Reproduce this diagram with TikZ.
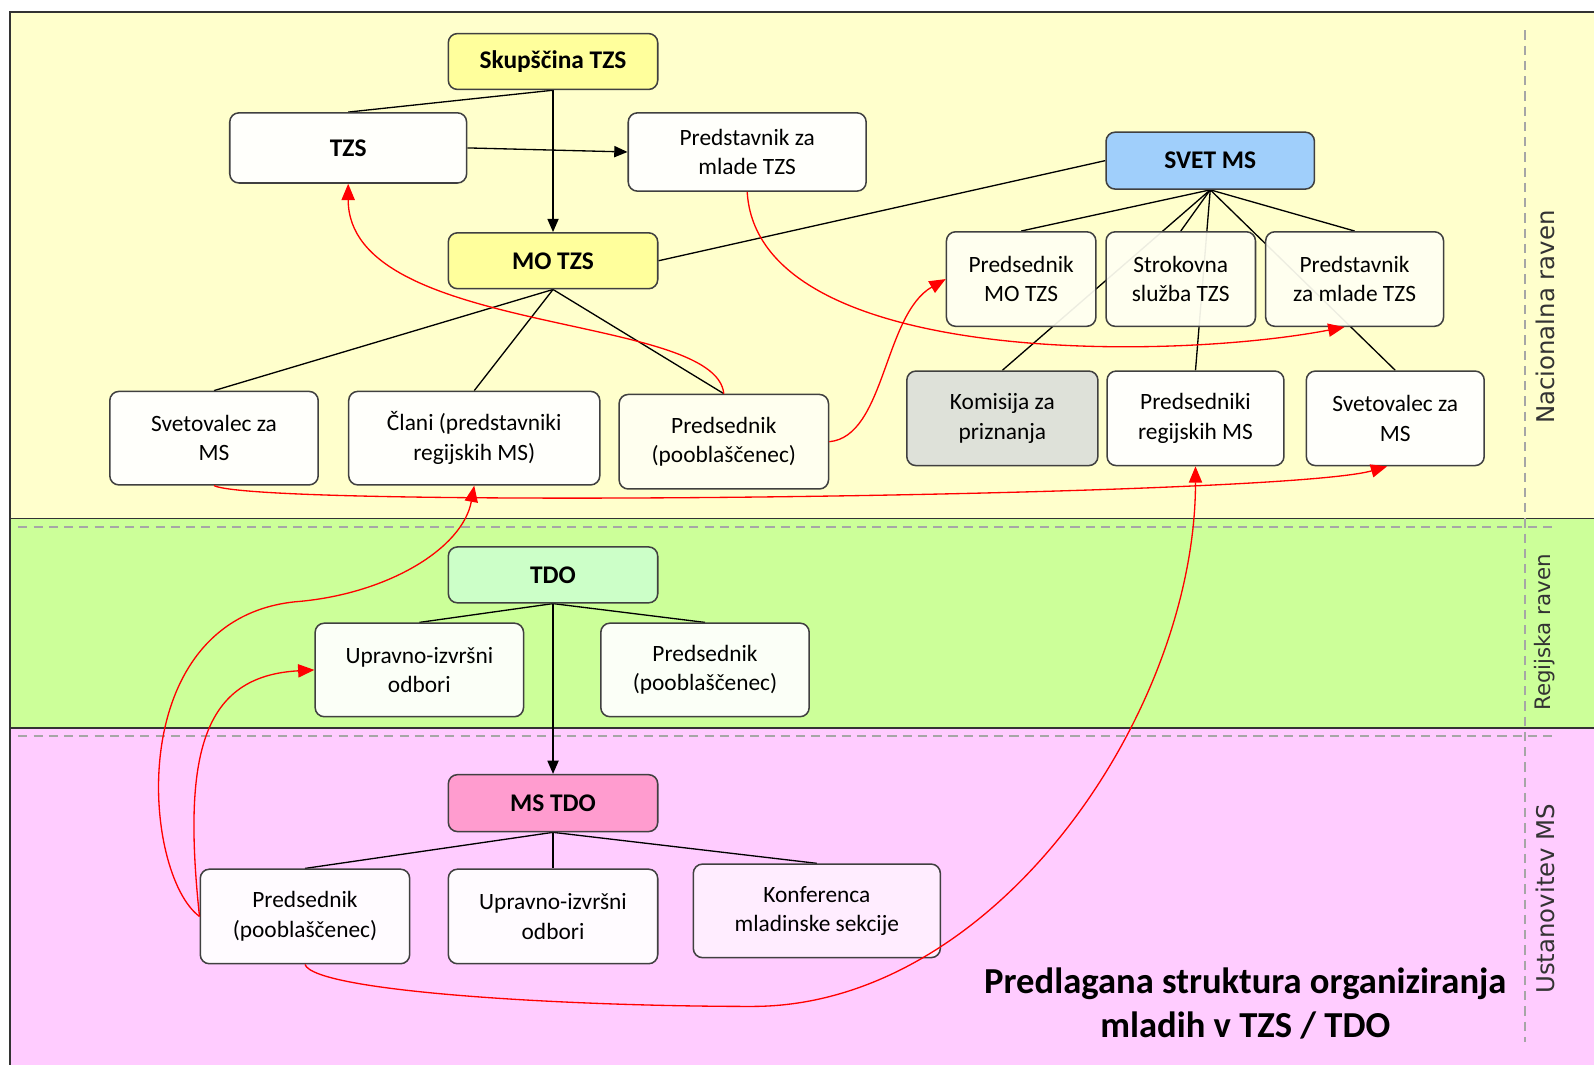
\documentclass[tikz,border=0pt]{standalone}
\usepackage{fontspec}
\setmainfont{Carlito}
\newfontfamily\bandfont{DejaVu Sans}
\usetikzlibrary{arrows.meta,backgrounds}
\definecolor{bandY}{HTML}{FFFFCC}
\definecolor{bandG}{HTML}{CCFF99}
\definecolor{bandP}{HTML}{FFCCFF}
\definecolor{headY}{HTML}{FFFF99}
\definecolor{headB}{HTML}{99CCFF}
\definecolor{headG}{HTML}{CCFFCC}
\definecolor{headP}{HTML}{FF99CC}
\definecolor{ivory}{HTML}{FFFFF2}
\definecolor{grayK}{HTML}{DCDFDB}
\definecolor{pinkK}{HTML}{FFF0FF}

\begin{document}
\begin{tikzpicture}
[x=1pt,y=-1pt,
 cell/.style={rectangle,rounded corners=9pt,draw=black!75,line width=1.5pt,fill=white,fill opacity=0.93,text opacity=1,inner sep=0pt,align=center,minimum width=206pt,minimum height=93pt,font=\fontsize{23}{29}\selectfont},
 head/.style={cell,minimum height=55pt,font=\fontsize{25}{30}\selectfont\bfseries},
 band/.style={rotate=90,text=black!80,font=\bandfont\fontsize{24}{28}\selectfont},
 tie/.style={line width=1.3pt},
 down/.style={line width=1.3pt,-{Triangle[length=13pt,width=11pt]}},
 redlink/.style={red,line width=1.3pt,-{Triangle[length=16pt,width=13pt]}},
 sep/.style={line width=1.6pt,black!80},
 dashsep/.style={line width=1.8pt,black!35,dash pattern=on 9pt off 6pt}]
\useasboundingbox (0,0) rectangle (1568,1047);
% national level
\node[head,fill=headY] (SK)  at ( 544  , 60.5) {Skupščina TZS};
\node[head,minimum width=233pt,minimum height=69pt] (TZS) at ( 342.5,145.5) {TZS};
\node[cell,minimum width=234pt,minimum height=77pt] (PM)  at ( 735  ,149.5) {Predstavnik za\\mlade TZS};
\node[head,fill=headY] (MO)  at ( 544  ,256.5) {MO TZS};
\node[head,fill=headB,minimum width=205pt,minimum height=56pt] (SV) at (1190.5,158) {SVET MS};
\node[cell,fill=ivory,minimum width=147pt] (S1) at (1004.5,274.5) {Predsednik\\MO TZS};
\node[cell,fill=ivory,minimum width=147pt] (S2) at (1161.5,274.5) {Strokovna\\služba TZS};
\node[cell,fill=ivory,minimum width=175pt] (S3) at (1332.5,274.5) {Predstavnik\\za mlade TZS};
\node[cell,fill=grayK,minimum width=188pt] (S4) at ( 986  ,411.5) {Komisija za\\priznanja};
\node[cell,minimum width=174pt] (S5) at (1176  ,411.5) {Predsedniki\\regijskih MS};
\node[cell,minimum width=175pt] (S6) at (1372.5,411.5) {Svetovalec za\\MS};
\node[cell,minimum width=205pt,minimum height=92pt] (M1) at ( 210.5,431) {Svetovalec za\\MS};
\node[cell,minimum width=247pt,minimum height=92pt] (M2) at ( 466.5,431) {Člani (predstavniki\\regijskih MS)};
\node[cell,fill=ivory] (M3) at ( 712  ,434.5) {Predsednik\\(pooblaščenec)};
% regional level
\node[head,fill=headG] (TDO) at ( 544  ,565.5) {TDO};
\node[cell,minimum width=205pt,minimum height=92pt] (R1) at ( 412.5,659) {Upravno-izvršni\\odbori};
\node[cell,minimum width=205pt,minimum height=92pt] (R2) at ( 693.5,659) {Predsednik\\(pooblaščenec)};
% youth section
\node[head,fill=headP,minimum height=56pt] (MS) at ( 544  ,790) {MS TDO};
\node[cell] (U1) at ( 300  ,901.5) {Predsednik\\(pooblaščenec)};
\node[cell] (U2) at ( 544  ,901.5) {Upravno-izvršni\\odbori};
\node[cell,fill=pinkK,minimum width=243pt,minimum height=92pt] (U3) at ( 803.5,896) {Konferenca\\mladinske sekcije};
\node[align=center,font=\fontsize{36}{43}\selectfont\bfseries] (title) at (1225,987) {Predlagana struktura organiziranja\\mladih v TZS / TDO};
\node[band] (L1) at (1520,312) {Nacionalna raven};
\node[band,font=\bandfont\fontsize{21}{25}\selectfont] (L2) at (1519,622) {Regijska raven};
\node[band] (L3) at (1520,884) {Ustanovitev MS};

\begin{scope}[on background layer]
\begin{scope}
\clip (0,0) rectangle (1568,1047);
\fill[bandY] (10, 12) rectangle (1590, 510);
\fill[bandG] (10,510) rectangle (1590, 716);
\fill[bandP] (10,716) rectangle (1590,1070);
\draw[sep] (1590,12) -- (10,12) -- (10,1070);
\draw[sep] (10,510) -- (1590,510);
\draw[sep] (10,716) -- (1590,716);
\draw[dashsep] (18,518) -- (1528,518);
\draw[dashsep] (18,724) -- (1528,724);
\draw[dashsep] (1500,30) -- (1500,1025);
\end{scope}
\path[tie] (SK.south)  edge (TZS.north)
                       edge[down] (MO.north)
           (TZS.east)  edge[down] (PM.west)
           (MO.east)   edge (SV.west)
           (MO.south)  edge (M1.north)
                       edge (M2.north)
                       edge (M3.north)
           (SV.south)  edge (S1.north)
                       edge (S2.north)
                       edge (S3.north)
                       edge (S4.north)
                       edge (S5.north)
                       edge (S6.north)
           (TDO.south) edge (R1.north)
                       edge (R2.north)
                       edge[down] (MS.north)
           (MS.south)  edge (U1.north)
                       edge (U2.north)
                       edge (U3.north);
\end{scope}

% red links
\draw[redlink] (M3.north) .. controls +(-8,-80) and +(0,150) .. (TZS.south);
\draw[redlink] (PM.south) .. controls +(10,172) and +(-172,33) .. ([xshift=-10pt]S3.south);
\draw[redlink] (M3.east) .. controls +(55,-5) and +(-61,35) .. (S1.west);
\draw[redlink] (M1.south) .. controls +(50,23) and +(-104,30) .. ([xshift=-8pt]S6.south);
\draw[redlink] (U1.west) .. controls (140,860) and (120,610) .. (290,592)
                         .. controls (380,585) and (455,540) .. (M2.south);
\draw[redlink] (U1.west) .. controls +(-17,-160) and +(-110,6) .. (R1.west);
\draw[redlink] (U1.south) .. controls +(10,27) and (560,990) .. (740,990)
                          .. controls (980,990) and (1176,700) .. (S5.south);
\end{tikzpicture}
\end{document}
